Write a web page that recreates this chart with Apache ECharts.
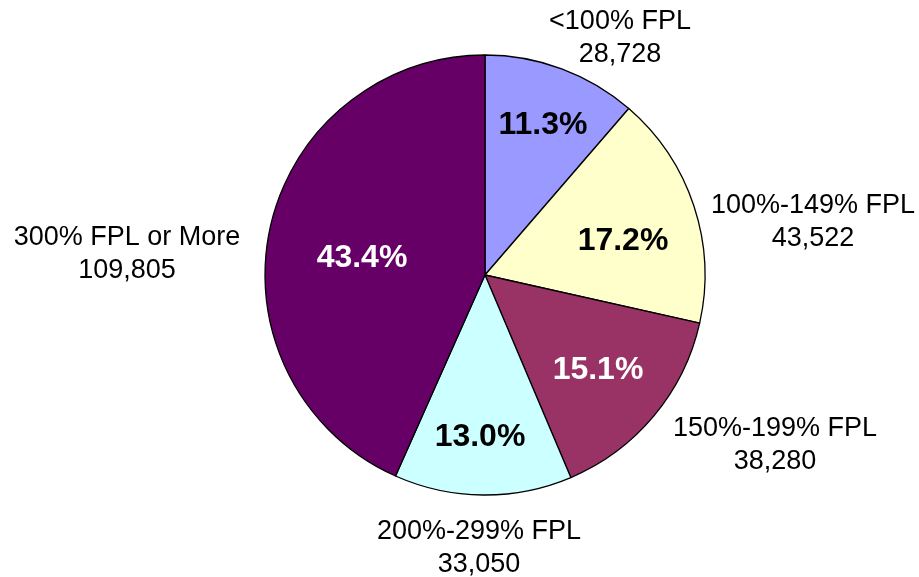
<!DOCTYPE html>
<html lang="en">
<head>
    <meta charset="UTF-8">
    <title>FPL pie</title>
    <style>
        body {
            margin: 0;
            padding: 0;
            background: #ffffff;
        }
        #chart {
            width: 919px;
            height: 577px;
        }
    </style>
</head>
<body>
<div id="chart"></div>
<script src="https://cdn.jsdelivr.net/npm/echarts@6/dist/echarts.min.js"></script>
<script>
    const categories = ["<100% FPL", "100%-149% FPL", "150%-199% FPL", "200%-299% FPL", "300% FPL or More"];
    const counts = [28728, 43522, 38280, 33050, 109805];
    const percents = ["11.3%", "17.2%", "15.1%", "13.0%", "43.4%"];

    const colors = ["#9999ff", "#ffffcc", "#993366", "#ccffff", "#660066"];
    const innerTextColors = ["#000000", "#000000", "#ffffff", "#000000", "#ffffff"];
    // label anchor points (px), picked to sit where the original puts them
    const innerPos = [[543, 125], [623, 241], [598, 370], [480, 437], [362, 258]];
    const outerPos = [[620, 38], [813, 222], [775, 445], [479, 548], [127, 254]];

    const font = "'Liberation Sans', Arial, sans-serif";
    const chart = echarts.init(document.getElementById("chart"));

    const baseData = categories.map((name, i) => ({
        name,
        value: counts[i],
        itemStyle: {color: colors[i]},
    }));

    const option = {
        backgroundColor: "#ffffff",
        animation: false,
        series: [
            {
                type: "pie",
                center: [485, 275],
                radius: 220,
                startAngle: 90,
                clockwise: true,
                silent: true,
                itemStyle: {borderColor: "#000000", borderWidth: 1.3},
                label: {
                    show: true,
                    position: "inside",
                    fontFamily: font,
                    fontWeight: "bold",
                    fontSize: 32,
                    align: "center",
                    verticalAlign: "middle",
                    formatter: (p) => percents[p.dataIndex],
                },
                labelLine: {show: false},
                labelLayout: (p) => ({
                    x: innerPos[p.dataIndex][0],
                    y: innerPos[p.dataIndex][1],
                    align: "center",
                    verticalAlign: "middle",
                }),
                data: baseData.map((d, i) => ({
                    ...d,
                    label: {color: innerTextColors[i]},
                })),
            },
            {
                type: "pie",
                center: [485, 275],
                radius: 220,
                startAngle: 90,
                clockwise: true,
                silent: true,
                itemStyle: {color: "transparent", borderWidth: 0},
                label: {
                    show: true,
                    position: "outside",
                    alignTo: "none",
                    overflow: "none",
                    fontFamily: font,
                    fontSize: 27,
                    lineHeight: 33,
                    color: "#000000",
                    align: "center",
                    verticalAlign: "middle",
                    formatter: (p) => p.name + "\n" + p.value.toLocaleString("en-US"),
                },
                labelLine: {show: false},
                labelLayout: (p) => ({
                    x: outerPos[p.dataIndex][0],
                    y: outerPos[p.dataIndex][1],
                    align: "center",
                    verticalAlign: "middle",
                }),
                data: categories.map((name, i) => ({name, value: counts[i]})),
            },
        ],
    };

    chart.setOption(option);
</script>
</body>
</html>
